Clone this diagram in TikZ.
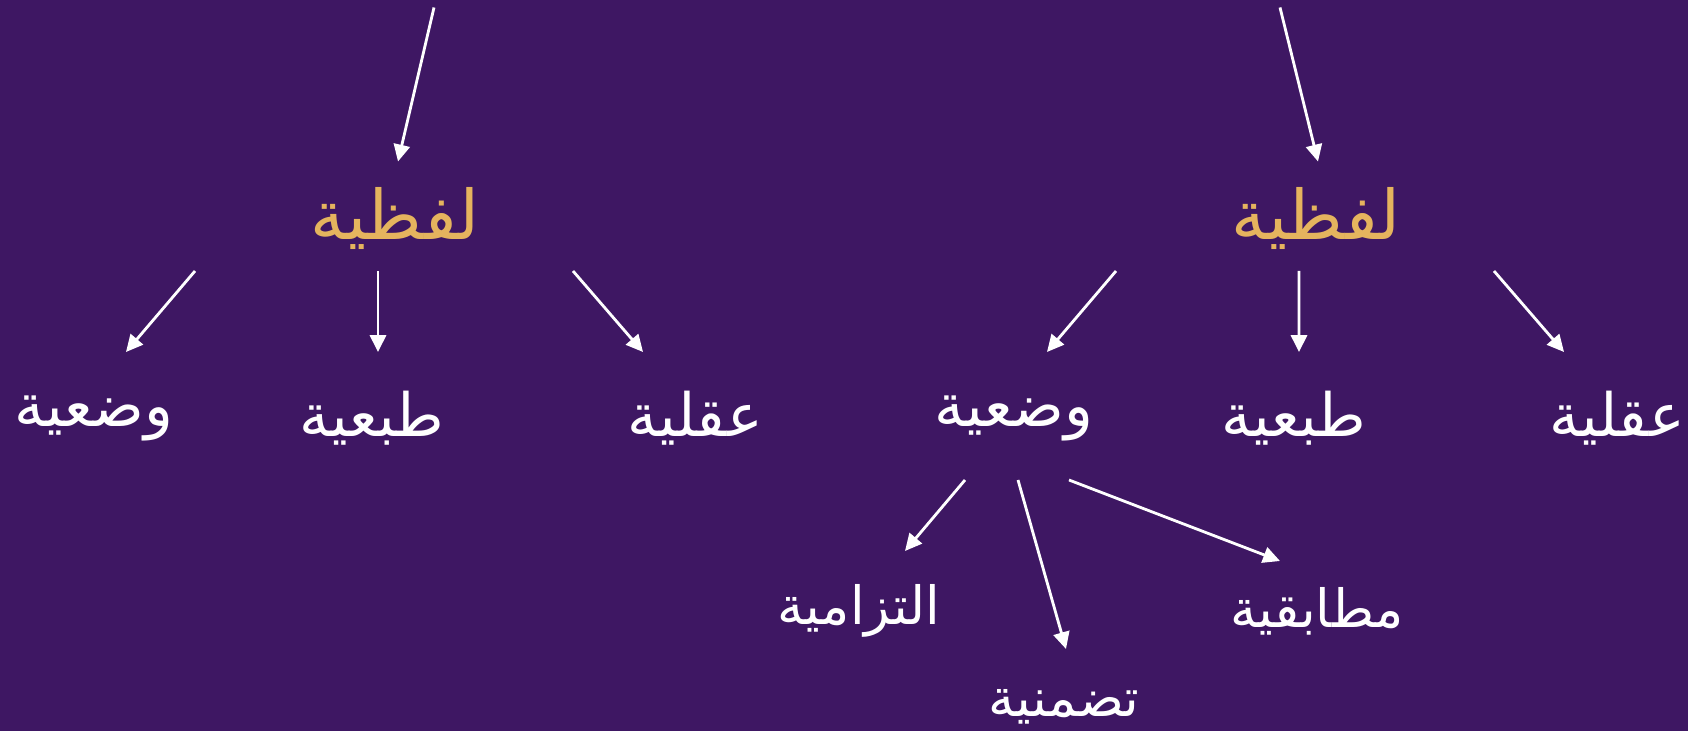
\documentclass[tikz,border=0pt]{standalone}
\usepackage{fontspec}
\newfontfamily\arabicfont[Script=Arabic]{DejaVu Sans}
\TeXXeTstate=1
\usepackage{xcolor}
\definecolor{plumbg}{HTML}{3E1763}
\definecolor{gold}{HTML}{E5B45E}
\usetikzlibrary{arrows.meta}
\tikzset{
  >={Triangle[length=4.8pt,width=4.6pt]},
  flow/.style={->,draw=white,line width=0.8pt},
  head/.style={font=\arabicfont\fontsize{19.5}{22}\selectfont,text=gold,inner sep=0pt},
  kind/.style={font=\arabicfont\fontsize{17}{20}\selectfont,text=white,inner sep=0pt},
  sub/.style={font=\arabicfont\fontsize{15}{18}\selectfont,text=white,inner sep=0pt},
}

\begin{document}
\begin{tikzpicture}[x=1cm,y=1cm]
  % background
  \fill[plumbg] (0,0) rectangle (16.88,-7.31);
  % heads
  \node[head] (lafzL) at (3.95,-2.18) {\beginR لفظية\endR};
  \node[head] (lafzR) at (13.16,-2.18) {\beginR لفظية\endR};
  \coordinate (topL) at ([shift={(0.39,2.105)}]lafzL.center);
  \coordinate (topR) at ([shift={(-0.36,2.105)}]lafzR.center);
  % kinds
  \node[kind] (wadL) at (0.94,-4.18) {\beginR وضعية\endR};
  \node[kind] (tabL) at (3.72,-4.18) {\beginR طبعية\endR};
  \node[kind] (aqlL) at (6.95,-4.18) {\beginR عقلية\endR};
  \node[kind] (wadR) at (10.14,-4.18) {\beginR وضعية\endR};
  \node[kind] (tabR) at (12.94,-4.18) {\beginR طبعية\endR};
  \node[kind] (aqlR) at (16.17,-4.18) {\beginR عقلية\endR};
  % sub kinds
  \node[sub] (iltz) at (8.59,-6.11) {\beginR التزامية\endR};
  \node[sub] (tadm) at (10.64,-7.07) {\beginR تضمنية\endR};
  \node[sub] (mutb) at (13.17,-6.11) {\beginR مطابقية\endR};
  % arrows
  \draw[flow] (topL) -- ([shift={(0.03,0.565)}]lafzL.center);
  \draw[flow] (topR) -- ([shift={(0.02,0.565)}]lafzR.center);
  \draw[flow] ([shift={(-2.00,-0.53)}]lafzL.center) -- ([shift={(0.32,0.66)}]wadL.center);
  \draw[flow] ([shift={(-0.17,-0.53)}]lafzL.center) -- ([shift={(0.06,0.66)}]tabL.center);
  \draw[flow] ([shift={(1.78,-0.53)}]lafzL.center) -- ([shift={(-0.52,0.66)}]aqlL.center);
  \draw[flow] ([shift={(-2.00,-0.53)}]lafzR.center) -- ([shift={(0.33,0.66)}]wadR.center);
  \draw[flow] ([shift={(-0.17,-0.53)}]lafzR.center) -- ([shift={(0.05,0.66)}]tabR.center);
  \draw[flow] ([shift={(1.78,-0.53)}]lafzR.center) -- ([shift={(-0.53,0.66)}]aqlR.center);
  \draw[flow] ([shift={(-0.49,-0.62)}]wadR.center) -- ([shift={(0.46,0.60)}]iltz.center);
  \draw[flow] ([shift={(0.04,-0.62)}]wadR.center) -- ([shift={(0.02,0.58)}]tadm.center);
  \draw[flow] ([shift={(0.55,-0.62)}]wadR.center) -- ([shift={(-0.37,0.50)}]mutb.center);
\end{tikzpicture}
\end{document}
